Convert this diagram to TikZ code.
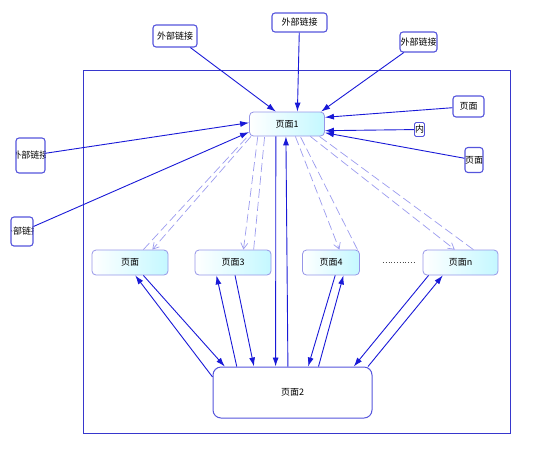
\documentclass[tikz,border=0pt]{standalone}
\usepackage{fontspec}
\usepackage{xcolor}
\usepackage{tikz}
\usetikzlibrary{arrows.meta,shadings}
\newfontfamily\cjk{Noto Sans CJK SC}
\newcommand\cnfont{\cjk\fontsize{9}{10}\selectfont}
\definecolor{linkblue}{RGB}{25,25,215}
\definecolor{dashblue}{RGB}{155,155,238}
\definecolor{boxblue}{RGB}{85,85,220}
\definecolor{pageedge}{RGB}{150,150,232}
\definecolor{pagecyan}{RGB}{196,248,255}
\definecolor{framecol}{RGB}{55,55,205}

\tikzset{
  extbox/.style={draw=boxblue, line width=1.1pt, rounded corners=3pt, fill=white, inner sep=1pt, font=\cnfont},
  pagebox/.style={draw=pageedge, line width=0.8pt, rounded corners=4pt, left color=white, right color=pagecyan, minimum height=25pt, font=\cnfont},
  link/.style={draw=linkblue, line width=0.9pt, -{Latex[length=9pt,width=6pt]}},
  dashlink/.style={draw=dashblue, line width=0.7pt, dash pattern=on 9pt off 4pt},
  dasharrow/.style={-{Straight Barb[length=6pt,width=7pt]}}
}

\begin{document}
\begin{tikzpicture}[x=1pt,y=-1pt]
  \useasboundingbox (0,0) rectangle (559,451);
  \draw[framecol, line width=1pt] (83,70) rectangle (510,433);

  \node[extbox, minimum width=44pt, minimum height=22pt] (e1) at (175,36) {外部链接};
  \node[extbox, minimum width=55pt, minimum height=19pt] (e2) at (299.5,22.5) {外部链接};
  \node[extbox, minimum width=37pt, minimum height=20pt,
    path picture={\node[font=\cnfont] at (path picture bounding box.center) {外部链接};}] (e3) at (418.5,42) {};
  \node[extbox, minimum width=31pt, minimum height=21pt] (q1) at (468.5,106.5) {页面};
  \node[extbox, minimum width=18pt, minimum height=25pt, inner sep=0pt] (q2) at (474,160) {页面};
  \node[extbox, line width=0.9pt, rounded corners=1.5pt, minimum width=10pt, minimum height=14pt, inner sep=0pt] (nei) at (419.5,129.5) {内};
  \node[extbox, minimum width=29pt, minimum height=35pt,
    path picture={\node[font=\cnfont] at (path picture bounding box.center) {外部链接};}] (L1) at (30.5,155.5) {};
  \node[extbox, minimum width=22pt, minimum height=29pt,
    path picture={\node[font=\cnfont] at (path picture bounding box.center) {外部链接};}] (L2) at (22,231.5) {};

  \node[pagebox, minimum width=75pt, minimum height=24pt] (p1) at (287,124) {页面1};
  \node[pagebox, minimum width=76pt] (r1) at (130,262.5) {页面};
  \node[pagebox, minimum width=76pt] (r3) at (233,262.5) {页面3};
  \node[pagebox, minimum width=57pt] (r4) at (331,262.5) {页面4};
  \node[pagebox, minimum width=75pt] (rn) at (460.5,262.5) {页面n};
  \node[extbox, line width=1pt, rounded corners=8pt, minimum width=159pt, minimum height=51pt] (p2) at (292.5,392.5) {页面2};

  \draw[link] (e1) -- (p1.132);
  \draw[link] (e2) -- (p1.50);
  \draw[link] (e3) -- (p1.20);
  \draw[link] (q1) -- (p1.10);
  \draw[link] (nei) -- (p1.-10);
  \draw[link] (q2) -- (p1.-13);
  \draw[link] (L1) -- (p1.178);
  \draw[link] (L2) -- (p1.192);

  \foreach \pg/\pa/\ba/\pb/\bb in {r1/-161/30/-164/44, r3/-157/51/-151/32, r4/-56/57/-43/26, rn/-28/114/-21/45} {
    \draw[dashlink, dasharrow] (p1.\pa) -- (\pg.\ba);
    \draw[dashlink] (\pg.\bb) -- (p1.\pb);
  }

  \draw[link] (p2.169) -- (r1.-68);
  \draw[link] (r1.-44) -- (p2.159);
  \draw[link] (p2.155) -- (r3.-142);
  \draw[link] (r3.-81) -- (p2.146);
  \draw[link] (p1.-132) -- (p2.123);
  \draw[link] (p2.100) -- (p1.-95);
  \draw[link] (r4.-72) -- (p2.59);
  \draw[link] (p2.45) -- (r4.-46);
  \draw[link] (rn.-158) -- (p2.23);
  \draw[link] (p2.19) -- (rn.-144);

  \draw[black!70, dotted, line width=0.8pt, shorten <=23pt, shorten >=8pt] (r4.east) -- (rn.west);
\end{tikzpicture}
\end{document}
